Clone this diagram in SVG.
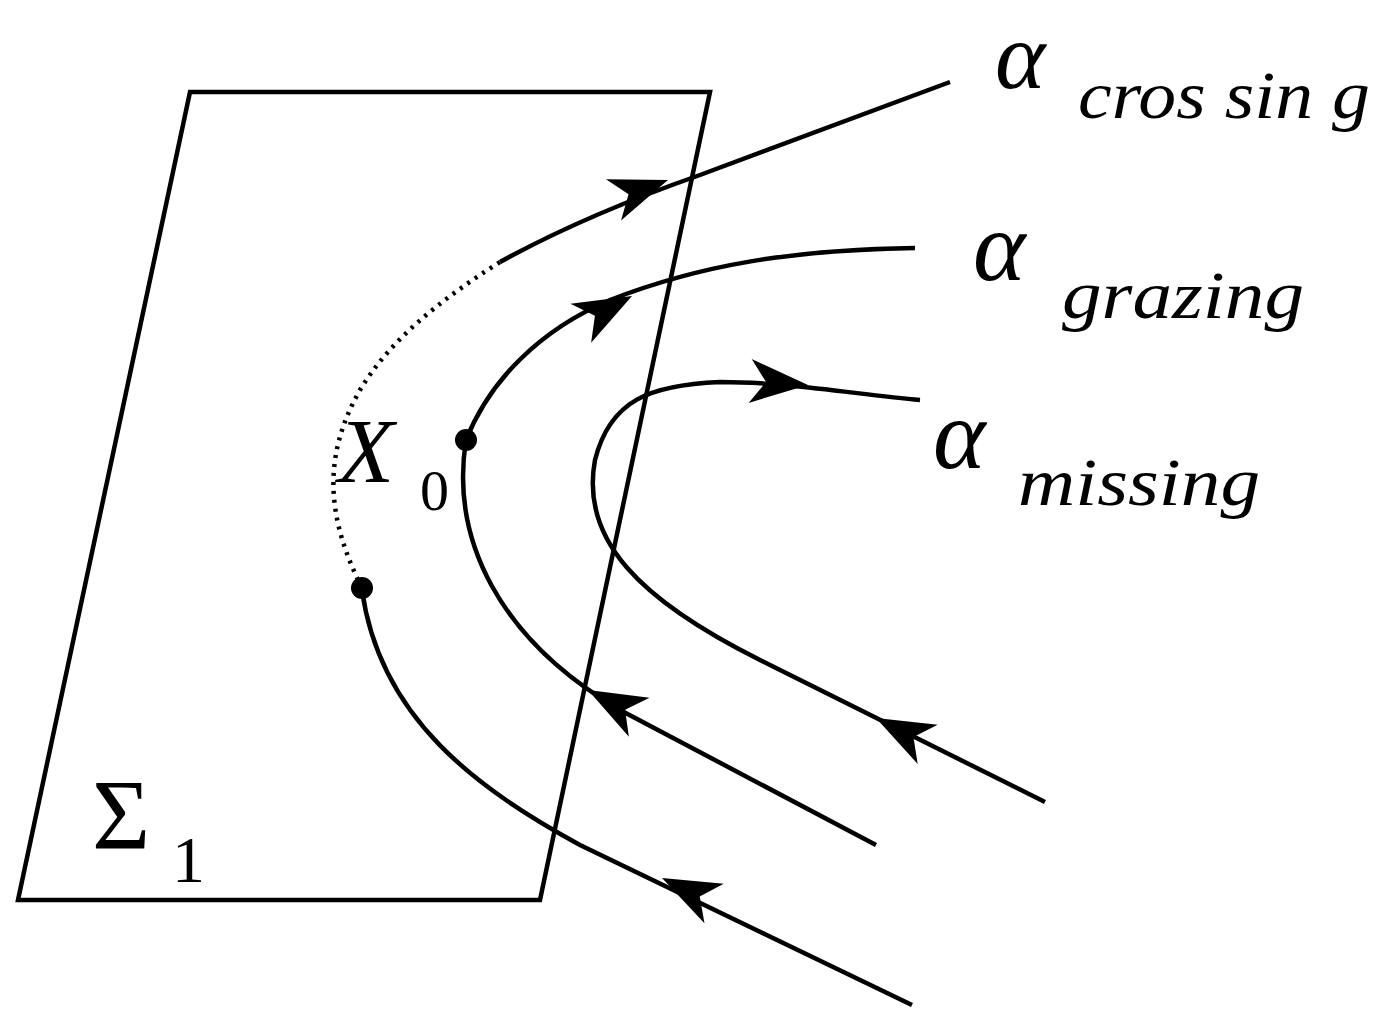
<svg xmlns="http://www.w3.org/2000/svg" width="1391" height="1035" viewBox="0 0 1391 1035">
<style>
.l{fill:none;stroke:#000;stroke-width:4.5}
.d{fill:none;stroke:#000;stroke-width:4.5;stroke-dasharray:3 6}
.t{font-family:"Liberation Serif","Times New Roman",serif;font-style:italic;fill:#000}
</style>
<defs><polygon id="ah" points="0,0 -58,-22 -42,0 -58,22" fill="#000"/></defs>
<rect width="1391" height="1035" fill="#fff"/>
<g id="plane"><polygon class="l" points="190,92 710,92 540,900 18,900"/></g>
<g id="connectors">
<path class="l" d="M362,590 C380,720 480,790 580,845 L912,1005"/>
<path class="d" d="M358,580 C330,520 320,460 360,390 C390,340 440,300 500,262"/>
<path class="l" d="M500,262 C540,240 600,210 700,175 L950,82"/>
<path class="l" d="M466,440 C490,380 540,330 610,300 C700,265 790,250 915,248"/>
<path class="l" d="M466,440 C450,540 500,640 620,710 L876,845"/>
<path class="l" d="M1045,802 L760,660 C640,600 580,540 595,460 C610,400 650,385 720,382 C790,382 860,395 920,400"/>
<use href="#ah" transform="translate(668,180) rotate(-20)"/>
<use href="#ah" transform="translate(662,878) rotate(-154)"/>
<use href="#ah" transform="translate(632,296) rotate(-28)"/>
<use href="#ah" transform="translate(588,690) rotate(-152)"/>
<use href="#ah" transform="translate(876,718) rotate(-153)"/>
<use href="#ah" transform="translate(808,385) rotate(4)"/>
</g>
<g id="points">
<circle cx="362" cy="588" r="11"/>
<circle cx="466" cy="440" r="11"/>
</g>
<g id="labels">
<text class="t" x="995" y="88" font-size="96">α</text>
<text class="t" x="1078" y="118" font-size="68" textLength="292" lengthAdjust="spacingAndGlyphs">cros sin g</text>
<text class="t" x="973" y="280" font-size="100">α</text>
<text class="t" x="1062" y="318" font-size="68" textLength="242" lengthAdjust="spacingAndGlyphs">grazing</text>
<text class="t" x="933" y="468" font-size="100">α</text>
<text class="t" x="1018" y="505" font-size="68" textLength="242" lengthAdjust="spacingAndGlyphs">missing</text>
<text class="t" x="338" y="482" font-size="92">X</text>
<text x="420" y="510" font-size="58" font-family="Liberation Serif,serif">0</text>
<text x="92" y="848" font-size="100" font-family="Liberation Serif,serif">Σ</text>
<text x="172" y="882" font-size="66" font-family="Liberation Serif,serif">1</text>
</g>
</svg>
